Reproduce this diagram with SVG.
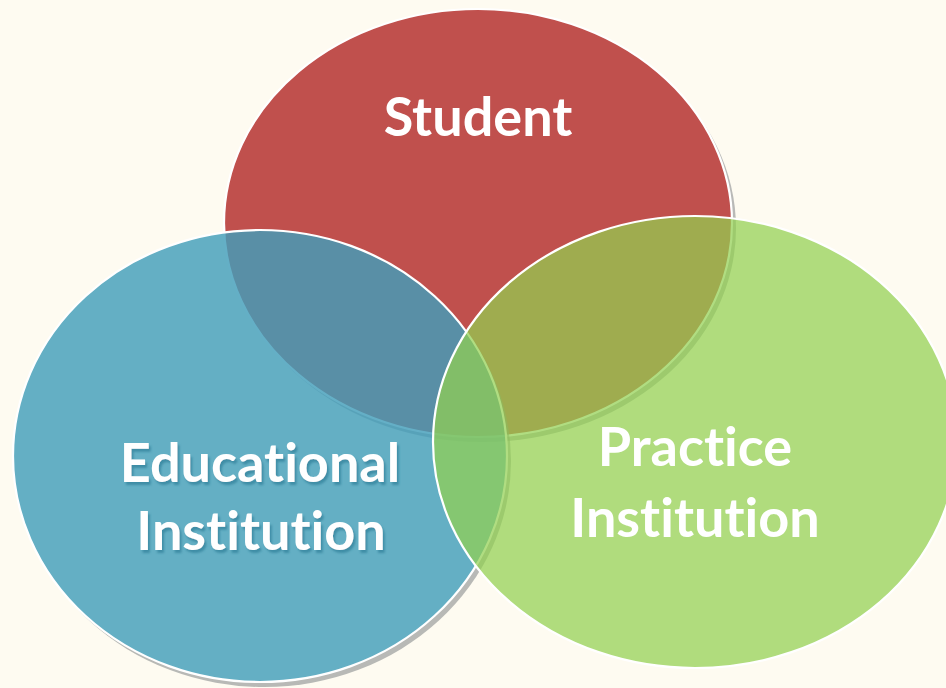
<svg xmlns="http://www.w3.org/2000/svg" width="946" height="688" viewBox="0 0 946 688">
  <defs>
    <style>
      .lbl { font-family: Lato, "Open Sans", "Liberation Sans", sans-serif; font-weight: 700; font-size: 54px; fill: #ffffff; text-anchor: middle; font-variant-ligatures: none; font-feature-settings: "liga" 0, "clig" 0; }
      .rim { stroke: #ffffff; stroke-width: 2.2; }
      .shd { fill: #7f8486; opacity: 0.55; }
    </style>
    <filter id="txtshadow" x="-10%" y="-20%" width="120%" height="150%">
      <feDropShadow dx="2" dy="3" stdDeviation="1" flood-color="#2f7f99" flood-opacity="0.7"/>
    </filter>
    <mask id="outsideBlue" maskUnits="userSpaceOnUse" x="0" y="0" width="946" height="688">
      <rect x="0" y="0" width="946" height="688" fill="#ffffff"/>
      <ellipse cx="260" cy="456" rx="247" ry="226" fill="#000000"/>
    </mask>
  </defs>
  <rect x="0" y="0" width="946" height="688" fill="#fefbf1"/>
  <g id="node-student">
    <ellipse class="shd" cx="482" cy="228" rx="254" ry="214"/>
    <ellipse class="rim" cx="478" cy="223" rx="254" ry="214" fill="#c0504d"/>
    <text class="lbl" x="478" y="136">Student</text>
  </g>
  <g id="node-educational">
    <ellipse class="shd" cx="264" cy="461" rx="247" ry="226" mask="url(#outsideBlue)"/>
    <ellipse class="rim" cx="260" cy="456" rx="247" ry="226" fill="rgb(66,158,186)" fill-opacity="0.82"/>
    <text class="lbl" x="260" y="482" filter="url(#txtshadow)">Educational</text>
    <text class="lbl" x="261" y="550" filter="url(#txtshadow)">Institution</text>
  </g>
  <g id="node-practice">
    <ellipse class="rim" cx="695" cy="442" rx="262" ry="226" fill="#92d050" fill-opacity="0.72"/>
    <text class="lbl" x="695" y="466">Practice</text>
    <text class="lbl" x="695" y="537">Institution</text>
  </g>
  <g id="connectors"/>
</svg>
